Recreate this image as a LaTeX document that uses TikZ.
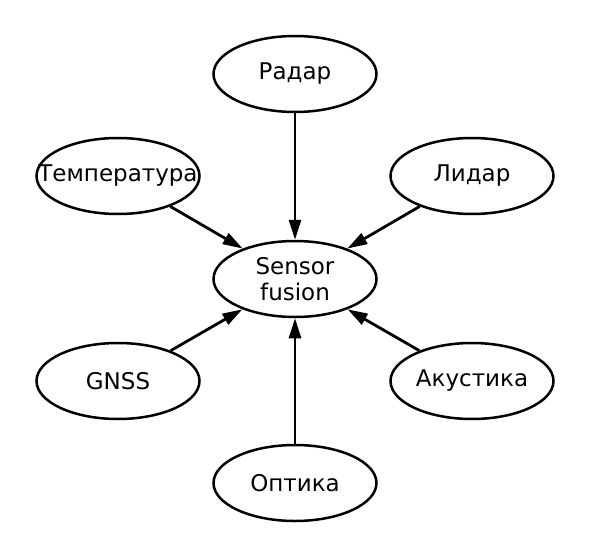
\documentclass[tikz,border=0pt]{standalone}
\usepackage{fontspec}
\setmainfont{DejaVu Sans}
\usepackage{tikz}
\usetikzlibrary{shapes.geometric, arrows.meta, positioning}

\begin{document}
\begin{tikzpicture}[x=1pt,y=-1pt,
  sensor/.style={ellipse,draw,line width=2.5pt,minimum width=163pt,minimum height=76pt,
    inner sep=0pt,align=center,font=\fontsize{23}{26}\selectfont},
  feed/.style={line width=2.8pt,-{Triangle[length=20pt,width=12pt]}}]
\useasboundingbox (0,0) rectangle (591,559);

% Central node
\node[sensor] (fusion) at (295,279) {Sensor\\fusion};

% Outer sensors and their arrows
\foreach \name/\x/\y/\txt in {radar/295/74/Радар, temp/118/176/Температура,
    lidar/472/176/Лидар, gnss/118/381/GNSS, acoustic/472/381/Акустика,
    optics/295/483/Оптика} {
    \node[sensor] (\name) at (\x,\y) {\makebox[0pt]{\txt}};
    \draw[feed] (\name) -- (fusion);
}
\end{tikzpicture}
\end{document}
